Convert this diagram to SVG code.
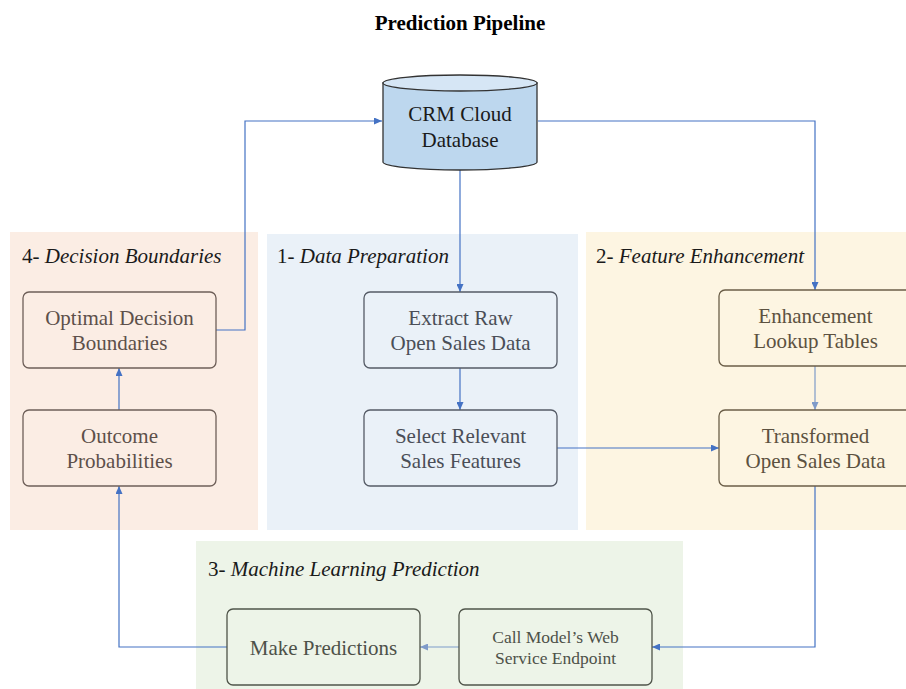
<svg xmlns="http://www.w3.org/2000/svg" width="906" height="689" viewBox="0 0 906 689">
<style>
text{font-family:"Liberation Serif","Times New Roman",serif;font-size:21px}
.title{font-weight:bold;fill:#000}
.glabel{fill:#1a1a1a}
.it{font-style:italic}
.node rect{fill:none;stroke-width:1.3}
.n4 rect{stroke:#6e5f58}.n4 text{fill:#5d504a}
.n1 rect{stroke:#555b66}.n1 text{fill:#4a4e57}
.n2 rect{stroke:#6b5e48}.n2 text{fill:#5c5140}
.n3 rect{stroke:#4f5449}.n3 text{fill:#4d5148}
.c{fill:none;stroke:#4472c4;stroke-width:1.2}
.cl{fill:none;stroke:#7f9bc9;stroke-width:1.2}
</style>
<defs>
<marker id="a" markerUnits="userSpaceOnUse" markerWidth="8" markerHeight="7" refX="8" refY="3.5" orient="auto"><path d="M0,0 L8,3.5 L0,7 z" fill="#4472c4"/></marker>
<marker id="al" markerUnits="userSpaceOnUse" markerWidth="8" markerHeight="7" refX="8" refY="3.5" orient="auto"><path d="M0,0 L8,3.5 L0,7 z" fill="#7f9bc9"/></marker>
</defs>
<rect width="906" height="689" fill="#ffffff"/>
<text class="title" x="460" y="30" text-anchor="middle">Prediction Pipeline</text>

<g id="panels">
<rect x="10" y="232" width="248" height="298" fill="#fbede4"/>
<rect x="267" y="234" width="311" height="296" fill="#eaf1f8"/>
<rect x="586" y="232" width="320" height="298" fill="#fdf5e2"/>
<rect x="196" y="541" width="487" height="148" fill="#edf4e8"/>
<text class="glabel" x="22" y="263">4- <tspan class="it">Decision Boundaries</tspan></text>
<text class="glabel" x="277" y="263">1- <tspan class="it">Data Preparation</tspan></text>
<text class="glabel" x="596" y="263">2- <tspan class="it">Feature Enhancement</tspan></text>
<text class="glabel" x="208" y="576">3- <tspan class="it">Machine Learning Prediction</tspan></text>
</g>

<g id="connectors">
<polyline class="c" points="460,170 460,292" marker-end="url(#a)"/>
<polyline class="c" points="460,368 460,410" marker-end="url(#a)"/>
<polyline class="c" points="557,448 719,448" marker-end="url(#a)"/>
<polyline class="c" points="538,121 815,121 815,290" marker-end="url(#a)"/>
<polyline class="cl" points="815,366 815,410" marker-end="url(#al)"/>
<polyline class="c" points="815,486 815,647 652,647" marker-end="url(#a)"/>
<polyline class="cl" points="459,647 420,647" marker-end="url(#al)"/>
<polyline class="c" points="227,647 119,647 119,486" marker-end="url(#a)"/>
<polyline class="c" points="119,410 119,368" marker-end="url(#a)"/>
<polyline class="c" points="216,330 245,330 245,121 382,121" marker-end="url(#a)"/>
</g>

<g id="crm">
<path d="M383,83 L383,162 A77,8 0 0 0 537,162 L537,83 Z" fill="#bdd7ee" stroke="#333" stroke-width="1.3"/>
<ellipse cx="460" cy="83" rx="77" ry="8" fill="#d6e6f5" stroke="#333" stroke-width="1.3"/>
<text x="460" y="121" text-anchor="middle" fill="#1a1a1a">CRM Cloud</text>
<text x="460" y="147" text-anchor="middle" fill="#1a1a1a">Database</text>
</g>

<g id="optimal" class="node n4">
<rect x="23" y="292" width="193" height="76" rx="6"/>
<text x="119.5" y="325" text-anchor="middle">Optimal Decision</text>
<text x="119.5" y="350" text-anchor="middle">Boundaries</text>
</g>
<g id="outcome" class="node n4">
<rect x="23" y="410" width="193" height="76" rx="6"/>
<text x="119.5" y="443" text-anchor="middle">Outcome</text>
<text x="119.5" y="468" text-anchor="middle">Probabilities</text>
</g>
<g id="extract" class="node n1">
<rect x="364" y="292" width="193" height="76" rx="6"/>
<text x="460.5" y="325" text-anchor="middle">Extract Raw</text>
<text x="460.5" y="350" text-anchor="middle">Open Sales Data</text>
</g>
<g id="select" class="node n1">
<rect x="364" y="410" width="193" height="76" rx="6"/>
<text x="460.5" y="443" text-anchor="middle">Select Relevant</text>
<text x="460.5" y="468" text-anchor="middle">Sales Features</text>
</g>
<g id="enhancement" class="node n2">
<rect x="719" y="290" width="193" height="76" rx="6"/>
<text x="815.5" y="323" text-anchor="middle">Enhancement</text>
<text x="815.5" y="348" text-anchor="middle">Lookup Tables</text>
</g>
<g id="transformed" class="node n2">
<rect x="719" y="410" width="193" height="76" rx="6"/>
<text x="815.5" y="443" text-anchor="middle">Transformed</text>
<text x="815.5" y="468" text-anchor="middle">Open Sales Data</text>
</g>
<g id="make" class="node n3">
<rect x="227" y="609" width="193" height="76" rx="6"/>
<text x="323.5" y="655" text-anchor="middle">Make Predictions</text>
</g>
<g id="call" class="node n3">
<rect x="459" y="609" width="193" height="76" rx="6"/>
<text x="555.5" y="643" text-anchor="middle" style="font-size:17.5px">Call Model’s Web</text>
<text x="555.5" y="664" text-anchor="middle" style="font-size:17.5px">Service Endpoint</text>
</g>
</svg>
